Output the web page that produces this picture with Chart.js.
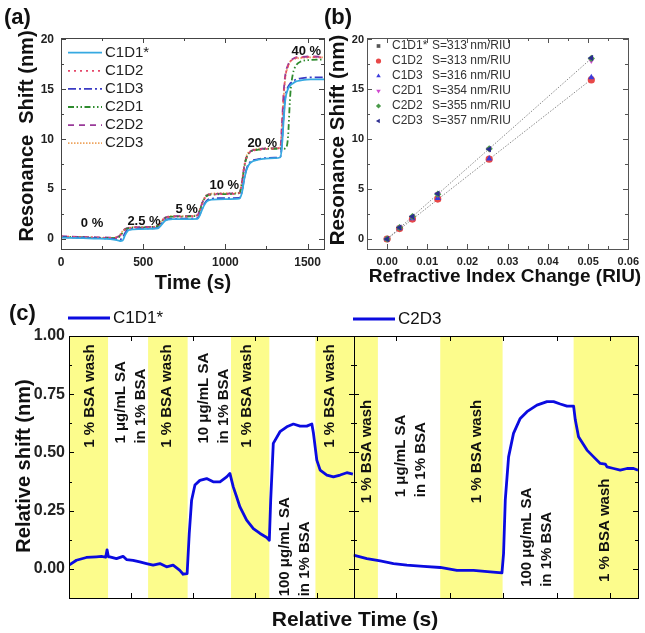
<!DOCTYPE html>
<html><head><meta charset="utf-8">
<script src="https://cdn.jsdelivr.net/npm/chart.js@4.4.1/dist/chart.umd.min.js"></script>
<style>
html,body{margin:0;padding:0;background:#fff;}
#wrap{position:relative;width:645px;height:633px;overflow:hidden;background:#fff;}
#wrap canvas{position:absolute;left:0;top:0;}
</style></head>
<body>
<div id="wrap">
<canvas id="ca" width="645" height="633"></canvas>
<canvas id="cb" width="645" height="633"></canvas>
<canvas id="cc" width="645" height="633"></canvas>
</div>
<script>
// ================= DATA =================
// ---- panel (a): resonance shift vs time ----
const aSeriesNames = ['C1D1*', 'C1D2', 'C1D3', 'C2D1', 'C2D2', 'C2D3'];
const aTicksX = [0, 500, 1000, 1500];
const aTicksY = [0, 5, 10, 15, 20];
const aConcLabels = ['0 %', '2.5 %', '5 %', '10 %', '20 %', '40 %'];
const aTime = [0, 100, 200, 300, 340, 360, 375, 390, 405, 420,
  440, 480, 550, 590, 605, 620, 635, 650, 680, 750,
  830, 845, 860, 875, 890, 920, 1000, 1085, 1100, 1115,
  1130, 1150, 1200, 1300, 1335, 1345, 1355, 1365, 1380, 1395,
  1410, 1430, 1460, 1520, 1600];
const aC1D1 = [0.15, 0.10, 0.05, 0.0, -0.1, -0.2, -0.15, 0.4, 0.8, 0.92,
  0.97, 1.0, 1.03, 1.08, 1.3, 1.6, 1.85, 1.95, 2.0, 2.0,
  2.02, 2.4, 3.0, 3.5, 3.8, 3.95, 4.0, 4.05, 4.6, 6.0,
  7.0, 7.6, 7.95, 8.1, 8.2, 9.5, 12.0, 14.0, 15.0, 15.4,
  15.6, 15.8, 15.9, 16.0, 16.0];
const aC1D2 = [0.25, 0.2, 0.15, 0.12, 0.15, 0.35, 0.7, 0.95, 1.05, 1.1,
  1.15, 1.15, 1.18, 1.3, 1.6, 1.9, 2.1, 2.2, 2.25, 2.25,
  2.35, 2.9, 3.6, 4.1, 4.35, 4.45, 4.5, 4.6, 5.5, 7.2,
  8.2, 8.7, 8.95, 9.05, 9.2, 11.5, 14.5, 16.3, 17.3, 17.8,
  18.0, 18.15, 18.2, 18.25, 18.2];
const aC1D3 = [0.2, 0.15, 0.1, 0.05, 0.0, -0.05, 0.15, 0.6, 0.9, 1.0,
  1.03, 1.05, 1.08, 1.12, 1.35, 1.7, 1.9, 2.0, 2.05, 2.05,
  2.08, 2.5, 3.1, 3.6, 3.9, 4.05, 4.1, 4.12, 4.7, 6.1,
  7.1, 7.7, 8.0, 8.15, 8.25, 9.8, 12.5, 14.3, 15.2, 15.6,
  15.8, 16.0, 16.1, 16.2, 16.2];
const aC2D1 = [0.22, 0.18, 0.12, 0.1, 0.12, 0.3, 0.65, 0.95, 1.05, 1.12,
  1.15, 1.15, 1.2, 1.3, 1.6, 1.9, 2.1, 2.2, 2.25, 2.25,
  2.35, 2.9, 3.6, 4.1, 4.35, 4.45, 4.5, 4.6, 5.5, 7.2,
  8.2, 8.7, 8.95, 9.05, 9.05, 9.05, 9.05, 9.1, 10.0, 14.5,
  16.5, 17.4, 17.8, 17.95, 18.0];
const aC2D2 = [0.3, 0.22, 0.18, 0.15, 0.18, 0.4, 0.75, 1.0, 1.1, 1.15,
  1.18, 1.2, 1.22, 1.32, 1.65, 1.95, 2.15, 2.22, 2.28, 2.3,
  2.38, 2.95, 3.65, 4.15, 4.4, 4.5, 4.55, 4.62, 5.6, 7.3,
  8.3, 8.75, 9.0, 9.1, 9.25, 11.8, 14.8, 16.5, 17.4, 17.9,
  18.05, 18.2, 18.25, 18.3, 18.25];
const aC2D3 = [0.2, 0.18, 0.15, 0.1, 0.2, 0.45, 0.8, 1.02, 1.1, 1.15,
  1.2, 1.2, 1.22, 1.35, 1.7, 2.0, 2.15, 2.25, 2.3, 2.3,
  2.4, 3.0, 3.7, 4.2, 4.45, 4.55, 4.6, 4.65, 5.7, 7.4,
  8.4, 8.8, 9.05, 9.1, 9.2, 11.2, 14.2, 16.2, 17.2, 17.8,
  18.0, 18.1, 18.15, 18.2, 18.2];

// ---- panel (b): shift vs refractive index change ----
const bSeriesNames = ['C1D1*', 'C1D2', 'C1D3', 'C2D1', 'C2D2', 'C2D3'];
const bSens = [313, 313, 316, 354, 355, 357];
const bTicksX = [0, 0.01, 0.02, 0.03, 0.04, 0.05, 0.06];
const bTicksY = [0, 5, 10, 15, 20];
const bRIU = [0, 0.0031, 0.0063, 0.0126, 0.0254, 0.0508];
const bC1D1 = [0, 1.05, 2.0, 4.05, 8.0, 16.0];
const bC1D2 = [0, 1.05, 2.0, 4.0, 8.0, 15.95];
const bC1D3 = [0, 1.1, 2.05, 4.1, 8.05, 16.2];
const bC2D1 = [0, 1.15, 2.2, 4.5, 9.0, 17.9];
const bC2D2 = [0, 1.15, 2.25, 4.5, 9.05, 18.1];
const bC2D3 = [0, 1.15, 2.25, 4.55, 9.0, 18.15];
const bFitX = [0, 0.0508];
const bFitLow = [0, 16.0];
const bFitHigh = [0, 18.1];

// ---- panel (c): relative shift vs relative time ----
const cTicksY = [0, 0.25, 0.5, 0.75, 1.0];
const cLeftTicksX = [500, 1000, 1500, 2000];
const cRightTicksX = [400, 900, 1400, 1900, 2400];
const cLeftName = 'C1D1*';
const cRightName = 'C2D3';
const cLeftPhases = ['1 % BSA wash', '1 \u03bcg/mL SA\nin 1% BSA', '1 % BSA wash', '10 \u03bcg/mL SA\nin 1% BSA', '1 % BSA wash', '100 \u03bcg/mL SA\nin 1% BSA', '1 % BSA wash'];
const cLeftEdges = [0, 315, 638, 957, 1307, 1616, 1988, 2295];
const cRightPhases = ['1 % BSA wash', '1 \u03bcg/mL SA\nin 1% BSA', '1 % BSA wash', '100 \u03bcg/mL SA\nin 1% BSA', '1 % BSA wash'];
const cRightEdges = [0, 228, 811, 1394, 2058, 2660];
const cLeftX = [0, 60, 140, 221, 262, 296, 307, 318, 329, 383, 436, 464,
  517, 571, 625, 679, 733, 787, 840, 894, 921, 953,
  970, 989, 1016, 1056, 1110, 1163, 1218, 1272, 1298, 1325,
  1352, 1379, 1433, 1487, 1541, 1595, 1616, 1627, 1648, 1702,
  1757, 1810, 1864, 1918, 1959, 1972, 1999, 2026, 2080, 2133,
  2187, 2241, 2290];
const cLeftY = [0.016, 0.037, 0.049, 0.052, 0.054, 0.05, 0.082, 0.052, 0.052, 0.044, 0.054, 0.04,
  0.037, 0.03, 0.023, 0.016, 0.023, 0.009, 0.016, -0.006, -0.023, -0.02,
  0.152, 0.295, 0.36, 0.38, 0.388, 0.374, 0.374, 0.395, 0.41, 0.352,
  0.31, 0.266, 0.209, 0.173, 0.152, 0.135, 0.123, 0.295, 0.539, 0.589,
  0.61, 0.622, 0.613, 0.613, 0.622, 0.582, 0.467, 0.424, 0.403, 0.395,
  0.403, 0.413, 0.407];
const cRightX = [0, 125, 250, 374, 499, 655, 811, 967, 1122, 1279,
  1388, 1403, 1419, 1450, 1496, 1559, 1622, 1715, 1809, 1871,
  1933, 1996, 2058, 2074, 2104, 2183, 2245, 2307, 2354, 2370,
  2432, 2494, 2557, 2619, 2660];
const cRightY = [0.059, 0.044, 0.034, 0.023, 0.016, 0.011, 0.006, -0.006, -0.006, -0.013,
  -0.017, 0.066, 0.295, 0.481, 0.582, 0.646, 0.675, 0.703, 0.718, 0.718,
  0.708, 0.699, 0.699, 0.639, 0.567, 0.51, 0.481, 0.453, 0.45, 0.438,
  0.431, 0.424, 0.431, 0.431, 0.424];

// ================= HELPERS / PLUGINS =================
const FONT = "'Liberation Sans', Arial, Helvetica, sans-serif";
Chart.defaults.font.family = FONT;
Chart.defaults.color = '#111';
const pts = (xs, ys) => xs.map((x, i) => ({x: x, y: ys[i]}));
const fixTicks = list => (s => { s.ticks = list.map(v => ({value: v})); });
const snap = v => Math.round(v) + 0.5;

function makeFrame(cfg) {
  return {
    id: 'frame',
    afterDatasetsDraw(chart) {
      const ctx = chart.ctx, a = chart.chartArea;
      const L = Math.round(a.left), R = Math.round(a.right), T = Math.round(a.top), B = Math.round(a.bottom);
      ctx.save();
      ctx.strokeStyle = cfg.color; ctx.lineWidth = 1;
      const seg = (x1, y1, x2, y2) => { ctx.beginPath(); ctx.moveTo(x1, y1); ctx.lineTo(x2, y2); ctx.stroke(); };
      const list = (s, minor) => {
        const v = s.ticks.map(t => t.value);
        const out = v.map(x => [x, cfg.major]);
        if (minor && v.length > 1) {
          const st = v[1] - v[0];
          for (let i = 0; i < v.length - 1; i++) out.push([(v[i] + v[i + 1]) / 2, cfg.minor]);
          const lo = v[0] - st / 2, hi = v[v.length - 1] + st / 2;
          if (lo > s.min) out.push([lo, cfg.minor]);
          if (hi < s.max) out.push([hi, cfg.minor]);
        }
        return out;
      };
      (cfg.x || []).forEach(c => {
        const s = chart.scales[c.id];
        list(s, c.minor).forEach(([v, len]) => {
          const p = snap(s.getPixelForValue(v));
          if (p < s.left - 1 || p > s.right + 1) return;
          seg(p, B, p, B - len); seg(p, T, p, T + len);
        });
      });
      (cfg.y || []).forEach(c => {
        const s = chart.scales[c.id];
        list(s, c.minor).forEach(([v, len]) => {
          const p = snap(s.getPixelForValue(v));
          if (p < T - 1 || p > B + 1) return;
          seg(L, p, L + len, p); seg(R, p, R - len, p);
          (cfg.dividers || []).forEach(id => { const d = Math.round(chart.scales[id].left); seg(d - len, p, d + len, p); });
        });
      });
      (cfg.dividers || []).forEach(id => { const d = snap(chart.scales[id].left); seg(d, T, d, B); });
      ctx.strokeRect(L + 0.5, T + 0.5, R - L, B - T);
      ctx.restore();
    }
  };
}

function makeTexts(items) {
  return {
    id: 'texts',
    afterDraw(chart) {
      const ctx = chart.ctx;
      items.forEach(it => {
        let x = it.x, y = it.y;
        if (it.sx) x = chart.scales[it.sx].getPixelForValue(it.x);
        if (it.sy) y = chart.scales[it.sy].getPixelForValue(it.y);
        ctx.save();
        ctx.translate(x, y);
        if (it.rot) ctx.rotate(it.rot * Math.PI / 180);
        ctx.font = it.font; ctx.fillStyle = it.color || '#111';
        ctx.textAlign = it.align || 'center'; ctx.textBaseline = 'middle';
        ctx.fillText(it.text, 0, 0);
        ctx.restore();
      });
    }
  };
}

function drawMarker(ctx, style, rot, r, x, y) {
  if (Chart.helpers && Chart.helpers.drawPoint) {
    Chart.helpers.drawPoint(ctx, {pointStyle: style, rotation: rot, radius: r, borderWidth: 0}, x, y);
    return;
  }
  ctx.beginPath(); ctx.arc(x, y, r, 0, Math.PI * 2); ctx.fill();
}

function makeLegend(items, font, color) {
  return {
    id: 'customLegend',
    afterDraw(chart) {
      const ctx = chart.ctx;
      items.forEach(it => {
        const ds = chart.data.datasets[it.ds];
        ctx.save();
        if (it.marker) {
          ctx.fillStyle = ds.pointBackgroundColor; ctx.strokeStyle = ds.pointBackgroundColor;
          drawMarker(ctx, ds.pointStyle, ds.pointRotation || 0, it.r, it.x1, it.y);
        } else {
          ctx.strokeStyle = ds.borderColor; ctx.lineWidth = ds.borderWidth;
          ctx.setLineDash(ds.borderDash || []);
          ctx.beginPath(); ctx.moveTo(it.x1, it.y); ctx.lineTo(it.x2, it.y); ctx.stroke();
          ctx.setLineDash([]);
        }
        ctx.font = font; ctx.fillStyle = color; ctx.textAlign = 'left'; ctx.textBaseline = 'middle';
        ctx.fillText(it.text !== undefined ? it.text : ds.label, it.tx, it.y);
        if (it.text2) ctx.fillText(it.text2, it.tx2, it.y);
        ctx.restore();
      });
    }
  };
}

function makeBands(cfg) {
  return {
    id: 'bands',
    beforeDatasetsDraw(chart) {
      const ctx = chart.ctx, a = chart.chartArea, ys = chart.scales.y;
      ctx.save();
      cfg.sets.forEach(set => {
        const s = chart.scales[set.scale];
        for (let i = 0; i < set.edges.length - 1; i += 2) {
          const x1 = s.getPixelForValue(set.edges[i]), x2 = s.getPixelForValue(set.edges[i + 1]);
          ctx.fillStyle = cfg.color;
          ctx.fillRect(x1, a.top, x2 - x1, a.bottom - a.top);
        }
        ctx.fillStyle = '#111'; ctx.font = cfg.font; ctx.textAlign = 'left'; ctx.textBaseline = 'middle';
        set.phases.forEach((txt, k) => {
          const an = set.anchors[k];
          const x = s.getPixelForValue(an.x), y = ys.getPixelForValue(an.y);
          const lines = txt.split('\n'), n = lines.length;
          lines.forEach((t, j) => {
            ctx.save();
            ctx.translate(x + (j - (n - 1) / 2) * cfg.lineGap, y);
            ctx.rotate(-Math.PI / 2);
            ctx.fillText(t, 0, 0);
            ctx.restore();
          });
        });
      });
      ctx.restore();
    }
  };
}

const hiddenGrid = {display: false, drawTicks: false};
const noBorder = {display: false};

// ================= PANEL (a) =================
const aSeries = [aC1D1, aC1D2, aC1D3, aC2D1, aC2D2, aC2D3];
const aColors = ['#36a9e1', '#e5486a', '#3b3bc4', '#2e8b2e', '#993a99', '#eea560'];
const aDashes = [[], [2, 4], [8, 3, 2, 3], [6, 2.5, 1.5, 2.5, 1.5, 2.5], [6, 5], [1.5, 1.5]];
const aConcPos = [{x: 189, y: 1.53}, {x: 505, y: 1.73}, {x: 764, y: 2.93}, {x: 993, y: 5.33}, {x: 1224, y: 9.63}, {x: 1492, y: 18.83}];

const aTexts = [
  {text: '(a)', x: 4, y: 18, font: 'bold 22px ' + FONT, align: 'left'},
  {text: 'Resonance  Shift (nm)', x: 27, y: 136, rot: -90, font: 'bold 20px ' + FONT},
  {text: 'Time (s)', x: 193, y: 283, font: 'bold 20px ' + FONT},
].concat(aConcLabels.map((t, i) => ({text: t, sx: 'x', sy: 'y', x: aConcPos[i].x, y: aConcPos[i].y, font: 'bold 13px ' + FONT})));

new Chart(document.getElementById('ca'), {
  type: 'line',
  data: {
    datasets: aSeries.map((s, i) => ({
      label: aSeriesNames[i], data: pts(aTime, s),
      borderColor: aColors[i], borderDash: aDashes[i], borderWidth: 1.8,
      pointRadius: 0, cubicInterpolationMode: 'monotone', fill: false
    }))
  },
  options: {
    responsive: false, animation: false, events: [],
    layout: {padding: {left: 0, top: 37.5, right: 321, bottom: 364}},
    plugins: {legend: {display: false}, tooltip: {enabled: false}},
    scales: {
      x: {type: 'linear', min: 0, max: 1600, afterBuildTicks: fixTicks(aTicksX), afterFit: s => { s.height = 20; },
        grid: hiddenGrid, border: noBorder,
        ticks: {font: {size: 12, weight: 'bold'}, color: '#222', padding: 6, maxRotation: 0, autoSkip: false, callback: v => String(v)}},
      y: {type: 'linear', min: -1, max: 20.2, afterBuildTicks: fixTicks(aTicksY), afterFit: s => { s.width = 61; },
        grid: hiddenGrid, border: noBorder,
        ticks: {font: {size: 12, weight: 'bold'}, color: '#222', padding: 7, autoSkip: false, callback: v => String(v)}}
    }
  },
  plugins: [
    makeFrame({color: '#444', major: 5, minor: 3, x: [{id: 'x', minor: true}], y: [{id: 'y', minor: true}]}),
    makeTexts(aTexts),
    makeLegend(aSeriesNames.map((n, i) => ({ds: i, x1: 68, x2: 102, tx: 105, y: 52.7 + 18.1 * i})), '15px ' + FONT, '#222')
  ]
});

// ================= PANEL (b) =================
const bSeries = [bC1D1, bC1D2, bC1D3, bC2D1, bC2D2, bC2D3];
const bColors = ['#555555', '#e84848', '#3c3cdc', '#d048d0', '#4a9a4a', '#2c2c90'];
const bStyles = ['rect', 'circle', 'triangle', 'triangle', 'rectRot', 'triangle'];
const bRot = [0, 0, 0, 180, 0, 270];

const bDatasets = bSeries.map((s, i) => ({
  type: 'scatter', label: bSeriesNames[i], data: pts(bRIU, s),
  pointStyle: bStyles[i], pointRotation: bRot[i], pointRadius: 3.6,
  pointBackgroundColor: bColors[i], pointBorderColor: bColors[i], pointBorderWidth: 0,
  showLine: false, order: 6 - i
}));
bDatasets.push({type: 'line', label: 'fit C1', data: pts(bFitX, bFitLow), borderColor: '#8a8a8a', borderWidth: 1, borderDash: [1.5, 1.5], pointRadius: 0, order: 20});
bDatasets.push({type: 'line', label: 'fit C2', data: pts(bFitX, bFitHigh), borderColor: '#8a8a8a', borderWidth: 1, borderDash: [1.5, 1.5], pointRadius: 0, order: 20});

const bTexts = [
  {text: '(b)', x: 324, y: 18, font: 'bold 22px ' + FONT, align: 'left'},
  {text: 'Resonance Shift (nm)', x: 338, y: 140, rot: -90, font: 'bold 20.5px ' + FONT},
  {text: 'Refractive Index Change (RIU)', x: 505, y: 277, font: 'bold 19px ' + FONT}
];

new Chart(document.getElementById('cb'), {
  type: 'scatter',
  data: {datasets: bDatasets},
  options: {
    responsive: false, animation: false, events: [],
    layout: {padding: {left: 0, top: 37.5, right: 15, bottom: 364}},
    plugins: {legend: {display: false}, tooltip: {enabled: false}},
    scales: {
      x: {type: 'linear', min: -0.005, max: 0.06, afterBuildTicks: fixTicks(bTicksX), afterFit: s => { s.height = 20; },
        grid: hiddenGrid, border: noBorder,
        ticks: {font: {size: 11, weight: 'bold'}, color: '#222', padding: 6, maxRotation: 0, autoSkip: false, callback: v => Number(v).toFixed(2)}},
      y: {type: 'linear', min: -1, max: 20.2, afterBuildTicks: fixTicks(bTicksY), afterFit: s => { s.width = 367; },
        grid: hiddenGrid, border: noBorder,
        ticks: {font: {size: 11, weight: 'bold'}, color: '#222', padding: 3, autoSkip: false, callback: v => String(v)}}
    }
  },
  plugins: [
    makeFrame({color: '#555', major: 5, minor: 3, x: [{id: 'x', minor: true}], y: [{id: 'y', minor: true}]}),
    makeTexts(bTexts),
    makeLegend(bSeriesNames.map((n, i) => ({ds: i, marker: true, r: 2.6, x1: 378.5, tx: 392, y: 46 + 15 * i,
      text2: 'S=' + bSens[i] + ' nm/RIU', tx2: 432})), '12px ' + FONT, '#333')
  ]
});

// ================= PANEL (c) =================
const cLineColor = '#0b0be0';
const cLeftAnchors = [{x: 167, y: 0.52}, {x: 497, y: 0.538}, {x: 789, y: 0.52}, {x: 1167, y: 0.538}, {x: 1433, y: 0.52}, {x: 1824, y: -0.118}, {x: 2106, y: 0.52}];
const cRightAnchors = [{x: 125, y: 0.282}, {x: 538, y: 0.308}, {x: 1154, y: 0.282}, {x: 1715, y: -0.077}, {x: 2354, y: -0.056}];

const cTexts = [
  {text: '(c)', x: 9, y: 314, font: 'bold 22px ' + FONT, align: 'left'},
  {text: 'Relative shift (nm)', x: 24, y: 466, rot: -90, font: 'bold 20px ' + FONT},
  {text: 'Relative Time (s)', x: 355, y: 620, font: 'bold 21px ' + FONT}
];

new Chart(document.getElementById('cc'), {
  type: 'line',
  data: {
    datasets: [
      {label: cLeftName, data: pts(cLeftX, cLeftY), xAxisID: 'xL', yAxisID: 'y', borderColor: cLineColor, borderWidth: 2.8, borderJoinStyle: 'round', pointRadius: 0, tension: 0, fill: false},
      {label: cRightName, data: pts(cRightX, cRightY), xAxisID: 'xR', yAxisID: 'y', borderColor: cLineColor, borderWidth: 2.8, borderJoinStyle: 'round', pointRadius: 0, tension: 0, fill: false}
    ]
  },
  options: {
    responsive: false, animation: false, events: [],
    layout: {padding: {left: 0, top: 336, right: 7, bottom: 35}},
    plugins: {legend: {display: false}, tooltip: {enabled: false}},
    scales: {
      xL: {type: 'linear', position: 'bottom', stack: 'c', stackWeight: 1, min: 0, max: 2295,
        afterBuildTicks: fixTicks(cLeftTicksX), afterFit: s => { s.height = 0; },
        grid: hiddenGrid, border: noBorder, ticks: {display: false}},
      xR: {type: 'linear', position: 'bottom', stack: 'c', stackWeight: 1, min: 0, max: 2660,
        afterBuildTicks: fixTicks(cRightTicksX), afterFit: s => { s.height = 0; },
        grid: hiddenGrid, border: noBorder, ticks: {display: false}},
      y: {type: 'linear', position: 'left', min: -0.125, max: 1.0, afterBuildTicks: fixTicks(cTicksY), afterFit: s => { s.width = 69; },
        grid: hiddenGrid, border: noBorder,
        ticks: {font: {size: 16, weight: 'bold'}, color: '#222', padding: 4, autoSkip: false, callback: v => Number(v).toFixed(2)}}
    }
  },
  plugins: [
    makeBands({color: '#fcfc8c', font: 'bold 15px ' + FONT, lineGap: 20, sets: [
      {scale: 'xL', edges: cLeftEdges, phases: cLeftPhases, anchors: cLeftAnchors},
      {scale: 'xR', edges: cRightEdges, phases: cRightPhases, anchors: cRightAnchors}
    ]}),
    makeFrame({color: '#000', major: 5, minor: 3, x: [{id: 'xL', minor: false}, {id: 'xR', minor: false}], y: [{id: 'y', minor: true}], dividers: ['xR']}),
    makeTexts(cTexts),
    makeLegend([
      {ds: 0, x1: 68, x2: 110, tx: 113, y: 318},
      {ds: 1, x1: 353, x2: 395, tx: 398, y: 319}
    ], '17px ' + FONT, '#111')
  ]
});
</script>
</body></html>
